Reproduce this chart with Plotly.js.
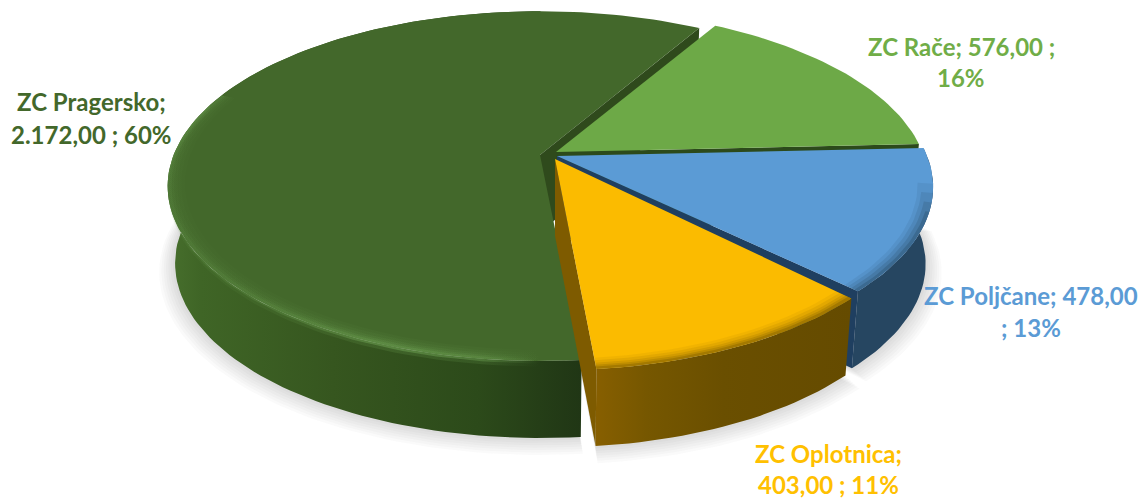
<!DOCTYPE html>
<html><head><meta charset="utf-8">
<script src="https://cdn.plot.ly/plotly-3.0.1.min.js"></script>
<style>html,body{margin:0;padding:0;background:#fff}#c{width:1142px;height:500px}</style>
</head><body><div id="c"></div>
<script>
// ---- chart data
var categories = ["ZC Rače", "ZC Poljčane", "ZC Oplotnica", "ZC Pragersko"];
var values = [576, 478, 403, 2172];
var labelFirst = ["ZC Rače; 576,00 ;", "ZC Poljčane; 478,00", "ZC Oplotnica;", "ZC Pragersko;"];
var labelSecond = ["16%", "; 13%", "403,00 ; 11%", "2.172,00 ; 60%"];
var topColors = ["#6da947", "#5b9bd5", "#fbbb00", "#43682b"];
var labelColors = ["#70ad47", "#5b9bd5", "#ffc000", "#43682b"];

// ---- view geometry (projection of the pie disk)
var startDeg = 30.1, P = 0.178, A = 372, B = 168.5, DEPTH = 77, SHRINK = 0.02;
var apexX = [556, 557, 555, 540], apexY = [152, 156, 159, 155];
var widthK = [0.985, 0.995, 0.98, 0.985], heightK = [1, 1, 1.03, 1.005];
var labelX = [961, 1031, 828, 91], labelY1 = [46, 295, 453, 101], labelY2 = [77, 327, 484, 134];

var total = values.reduce(function (a, b) { return a + b; }, 0);
var angles = [], acc = startDeg;
values.forEach(function (v) { var a0 = acc; acc += v / total * 360; angles.push([a0, acc]); });

function pt(i, deg, r, z) {
  var f = deg * Math.PI / 180, u = r * Math.sin(f), v = r * Math.cos(f), w = 1 + P * v;
  var k = 1 - SHRINK * z;
  return [apexX[i] + A * widthK[i] * u / w * k, apexY[i] - B * heightK[i] * v / w + DEPTH * z];
}
function arc(i, d0, d1, r, z) {
  var out = [], n = Math.max(4, Math.ceil(Math.abs(d1 - d0) / 1.5));
  for (var j = 0; j <= n; j++) out.push(pt(i, d0 + (d1 - d0) * j / n, r, z));
  return out;
}
var traces = [];
function poly(points, fill, grad) {
  var t = {
    type: "scatter", mode: "lines", fill: "toself", hoverinfo: "skip", showlegend: false,
    x: points.map(function (p) { return p[0]; }).concat([points[0][0]]),
    y: points.map(function (p) { return p[1]; }).concat([points[0][1]]),
    line: { width: 0, color: "rgba(0,0,0,0)" }, fillcolor: fill
  };
  if (grad) t.fillgradient = { type: "horizontal", colorscale: grad };
  traces.push(t);
}
function ring(i, d0, d1, r0, r1, fill, grad) {
  poly(arc(i, d0, d1, r1, 0).concat(arc(i, d1, d0, r0, 0)), fill, grad);
}
function wall(i, d0, d1, fill, grad) {
  poly(arc(i, d0, d1, 1, 0).concat(arc(i, d1, d0, 1, 1)), fill, grad);
}
function wallBand(i, d0, d1, z0, z1, fill, grad) {
  poly(arc(i, d0, d1, 1, z0).concat(arc(i, d1, d0, 1, z1)), fill, grad);
}
function cut(i, d, fill) {
  poly([pt(i, d, 0, 0), pt(i, d, 1, 0), pt(i, d, 1, 1), pt(i, d, 0, 1)], fill);
}
function topFace(i) {
  poly([pt(i, 0, 0, 0)].concat(arc(i, angles[i][0], angles[i][1], 1, 0)), topColors[i]);
}
function glow(a) {
  return [[0, "rgba(112,165,85," + 0.35 * a + ")"], [0.25, "rgba(112,165,85," + 0.5 * a + ")"],
          [0.6, "rgba(112,165,85," + a + ")"], [0.85, "rgba(112,165,85," + 0.8 * a + ")"],
          [1, "rgba(112,165,85,0)"]];
}

// soft ground shadow
for (var s = 1; s <= 7; s++) {
  [3, 2, 1].forEach(function (i) {
    var a = angles[i];
    var r = 1 + s * 0.006, pts = arc(i, a[0], a[1], r, 1).map(function (p) { return [p[0], p[1] + s * 0.9]; });
    var c = pt(i, 0, 0, 1);
    poly([c].concat(pts), "rgba(60,60,60,0.028)");
  });
}

var PR = 3, RA = 0, PO = 1, OP = 2;
// Pragersko
cut(PR, angles[PR][1], "#2f4a1c");
wall(PR, angles[PR][0], angles[PR][1] - 30, "#36551f",
  [[0, "#476f2d"], [0.08, "#3f6526"], [0.4, "#36561f"], [0.75, "#2c4a1a"], [1, "#203615"]]);
topFace(PR);
[[0.955, 0.06], [0.965, 0.08], [0.975, 0.12], [0.983, 0.18], [0.99, 0.3]].forEach(function (b) {
  ring(PR, 180, 292, b[0], 1, "rgba(112,165,85," + b[1] + ")", glow(b[1]));
});
wallBand(PR, 180, 288, 0, 0.03, "rgba(112,165,85,0.4)", glow(0.6));
wallBand(PR, 180, 288, 0.03, 0.07, "rgba(112,165,85,0.15)", glow(0.2));
// Rače
cut(RA, angles[RA][1], "#2c4a1b");
topFace(RA);
// Poljčane
wall(PO, angles[PO][0], angles[PO][1], "#264661");
cut(PO, angles[PO][1], "#1f3f60");
topFace(PO);
ring(PO, angles[PO][0] + 12, angles[PO][1], 0.96, 1, "rgba(38,70,97,0.1)");
ring(PO, angles[PO][0] + 15, angles[PO][1], 0.97, 1, "rgba(38,70,97,0.14)");
ring(PO, angles[PO][0] + 18, angles[PO][1], 0.98, 1, "rgba(38,70,97,0.2)");
ring(PO, angles[PO][0] + 21, angles[PO][1], 0.99, 1, "rgba(38,70,97,0.3)");
// Oplotnica
cut(OP, angles[OP][1], "#7e5b00");
wall(OP, angles[OP][0], angles[OP][1], "#6b4f00",
  [[0, "#875f00"], [0.2, "#765700"], [0.5, "#6a4f00"], [1, "#654b00"]]);
topFace(OP);
[[0.955, 0.07], [0.965, 0.1], [0.975, 0.14], [0.983, 0.2], [0.99, 0.3]].forEach(function (b) {
  ring(OP, angles[OP][0], angles[OP][1], b[0], 1, "rgba(107,79,0," + b[1] + ")");
});

var annotations = [];
categories.forEach(function (c, i) {
  [[labelFirst[i], labelY1[i]], [labelSecond[i], labelY2[i]]].forEach(function (l) {
    annotations.push({
      x: labelX[i], y: l[1], xref: "x", yref: "y", text: "<b>" + l[0] + "</b>", showarrow: false,
      xanchor: "center", yanchor: "middle",
      font: { family: "Lato, 'Open Sans', sans-serif", size: 24, color: labelColors[i] }
    });
  });
});

Plotly.newPlot("c", traces, {
  width: 1142, height: 500, margin: { l: 0, r: 0, t: 0, b: 0 },
  paper_bgcolor: "#fff", plot_bgcolor: "#fff", showlegend: false,
  xaxis: { range: [0, 1142], visible: false, fixedrange: true },
  yaxis: { range: [500, 0], visible: false, fixedrange: true },
  annotations: annotations
}, { displayModeBar: false, staticPlot: true });
</script></body></html>
